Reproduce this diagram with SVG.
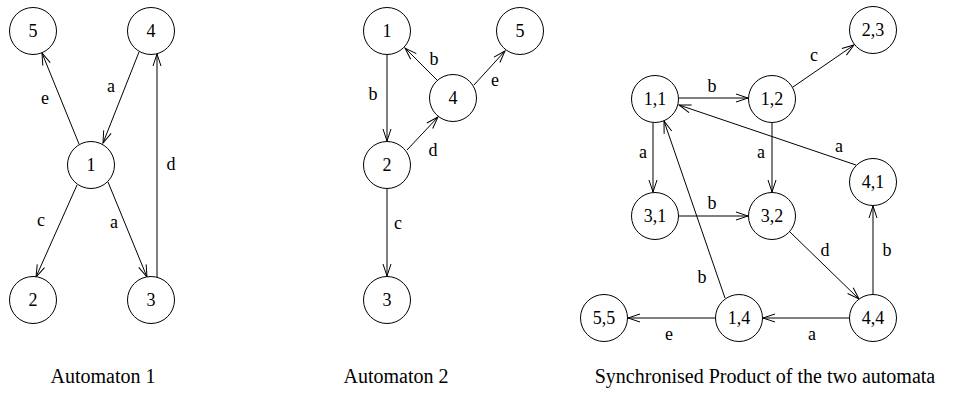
<svg xmlns="http://www.w3.org/2000/svg" width="972" height="402" viewBox="0 0 972 402">
<style>
  .n circle { fill: #fff; stroke: #000; stroke-width: 1; }
  .n text { font-family: "Liberation Serif", "Times New Roman", serif; font-size: 18px; text-anchor: middle; fill: #000; }
  .e line { stroke: #000; stroke-width: 1; fill: none; marker-end: url(#arr); }
  .lbl { font-family: "Liberation Serif", "Times New Roman", serif; font-size: 18px; text-anchor: middle; fill: #000; }
  .cap { font-family: "Liberation Serif", "Times New Roman", serif; font-size: 20px; text-anchor: middle; fill: #000; }
</style>
<defs>
  <marker id="arr" markerUnits="userSpaceOnUse" markerWidth="14" markerHeight="10" viewBox="-13 -5 14 10" refX="0" refY="0" orient="auto">
    <path d="M-12,-4 L0,0 L-12,4" fill="none" stroke="#000" stroke-width="1"/>
  </marker>
</defs>
<rect width="972" height="402" fill="#fff"/>

<g id="connectors">
  <g class="e">
    <!-- Automaton 1 -->
    <line x1="79" y1="144" x2="42" y2="53"/>
    <line x1="139" y1="52" x2="103" y2="143"/>
    <line x1="77" y1="185" x2="36" y2="277"/>
    <line x1="108" y1="182" x2="147" y2="277"/>
    <line x1="157" y1="278" x2="157" y2="54"/>
    <!-- Automaton 2 -->
    <line x1="387" y1="55" x2="387" y2="141"/>
    <line x1="437" y1="80" x2="405" y2="48"/>
    <line x1="474" y1="85" x2="505" y2="51"/>
    <line x1="407" y1="150" x2="438" y2="117"/>
    <line x1="387" y1="189" x2="387" y2="276"/>
    <!-- Product -->
    <line x1="679" y1="98" x2="748" y2="98"/>
    <line x1="793" y1="87" x2="854" y2="45"/>
    <line x1="856" y1="165" x2="679" y2="105"/>
    <line x1="653" y1="123" x2="653" y2="192"/>
    <line x1="772" y1="123" x2="772" y2="192"/>
    <line x1="725" y1="298" x2="664" y2="121"/>
    <line x1="679" y1="216" x2="748" y2="216"/>
    <line x1="790" y1="232" x2="859" y2="299"/>
    <line x1="873" y1="294" x2="873" y2="206"/>
    <line x1="849" y1="318" x2="763" y2="318"/>
    <line x1="715" y1="318" x2="628" y2="318"/>
  </g>
  <g id="edge-labels">
    <text class="lbl" x="45" y="104">e</text>
    <text class="lbl" x="111" y="92">a</text>
    <text class="lbl" x="41" y="226">c</text>
    <text class="lbl" x="114" y="228">a</text>
    <text class="lbl" x="171" y="170">d</text>

    <text class="lbl" x="373" y="100">b</text>
    <text class="lbl" x="434" y="65">b</text>
    <text class="lbl" x="495" y="86">e</text>
    <text class="lbl" x="433" y="156">d</text>
    <text class="lbl" x="398" y="229">c</text>

    <text class="lbl" x="814" y="61">c</text>
    <text class="lbl" x="712" y="92">b</text>
    <text class="lbl" x="643" y="158">a</text>
    <text class="lbl" x="761" y="158">a</text>
    <text class="lbl" x="839" y="152">a</text>
    <text class="lbl" x="712" y="209">b</text>
    <text class="lbl" x="825" y="256">d</text>
    <text class="lbl" x="887" y="256">b</text>
    <text class="lbl" x="702" y="283">b</text>
    <text class="lbl" x="812" y="340">a</text>
    <text class="lbl" x="669" y="340">e</text>
  </g>
</g>

<!-- Automaton 1 nodes -->
<g id="a1-5" class="n"><circle cx="33" cy="31" r="23.5"/><text x="33" y="37">5</text></g>
<g id="a1-4" class="n"><circle cx="151" cy="31" r="23.5"/><text x="151" y="37">4</text></g>
<g id="a1-1" class="n"><circle cx="91" cy="165" r="23.5"/><text x="91" y="171">1</text></g>
<g id="a1-2" class="n"><circle cx="33" cy="300" r="23.5"/><text x="33" y="306">2</text></g>
<g id="a1-3" class="n"><circle cx="151" cy="300" r="23.5"/><text x="151" y="306">3</text></g>

<!-- Automaton 2 nodes -->
<g id="a2-1" class="n"><circle cx="387" cy="31" r="23.5"/><text x="387" y="37">1</text></g>
<g id="a2-5" class="n"><circle cx="520" cy="31" r="23.5"/><text x="520" y="37">5</text></g>
<g id="a2-4" class="n"><circle cx="453" cy="98" r="23.5"/><text x="453" y="104">4</text></g>
<g id="a2-2" class="n"><circle cx="387" cy="165" r="23.5"/><text x="387" y="171">2</text></g>
<g id="a2-3" class="n"><circle cx="387" cy="300" r="23.5"/><text x="387" y="306">3</text></g>

<!-- Product nodes -->
<g id="p-23" class="n"><circle cx="873" cy="30" r="23.5"/><text x="873" y="36">2,3</text></g>
<g id="p-11" class="n"><circle cx="655" cy="99" r="23.5"/><text x="655" y="105">1,1</text></g>
<g id="p-12" class="n"><circle cx="772" cy="99" r="23.5"/><text x="772" y="105">1,2</text></g>
<g id="p-41" class="n"><circle cx="873" cy="182" r="23.5"/><text x="873" y="188">4,1</text></g>
<g id="p-31" class="n"><circle cx="655" cy="216" r="23.5"/><text x="655" y="222">3,1</text></g>
<g id="p-32" class="n"><circle cx="772" cy="216" r="23.5"/><text x="772" y="222">3,2</text></g>
<g id="p-55" class="n"><circle cx="604" cy="318" r="23.5"/><text x="604" y="324">5,5</text></g>
<g id="p-14" class="n"><circle cx="739" cy="318" r="23.5"/><text x="739" y="324">1,4</text></g>
<g id="p-44" class="n"><circle cx="873" cy="318" r="23.5"/><text x="873" y="324">4,4</text></g>

<!-- Captions -->
<text class="cap" x="103" y="383">Automaton 1</text>
<text class="cap" x="396" y="383">Automaton 2</text>
<text class="cap" x="765" y="383">Synchronised Product of the two automata</text>
</svg>
